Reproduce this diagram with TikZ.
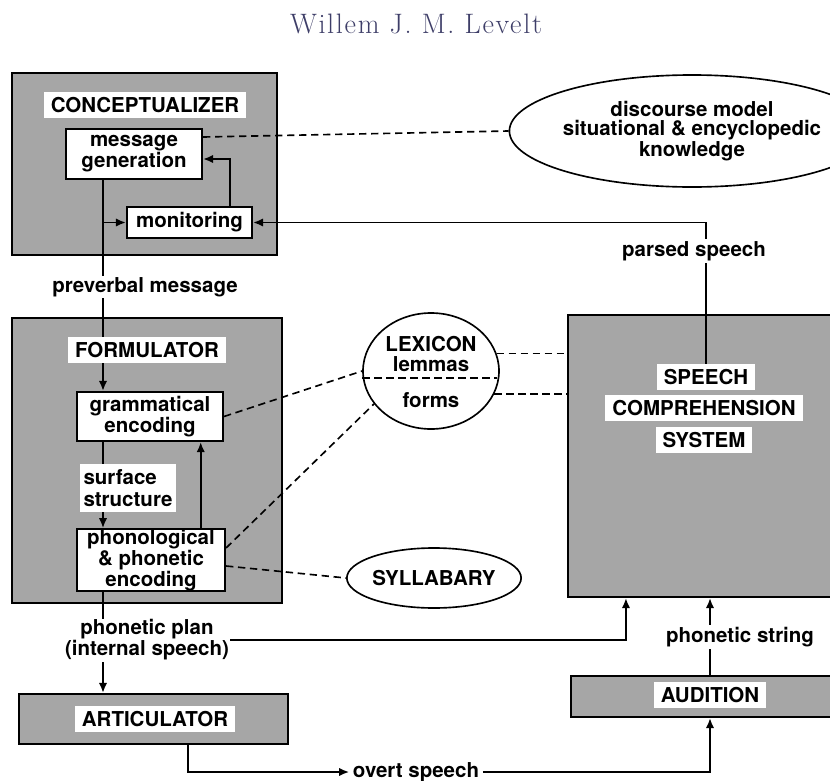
\documentclass[tikz,border=0pt]{standalone}
\usepackage{fontspec}
\setsansfont{TeX Gyre Heros}
\newfontfamily\titlefont[LetterSpace=6]{Latin Modern Roman}
\usetikzlibrary{arrows.meta,shapes.geometric,fit}
\definecolor{panelgray}{RGB}{166,166,166}
\definecolor{titleblue}{RGB}{62,62,104}

\begin{document}
\begin{tikzpicture}[x=.03cm,y=-.03cm,
    lbl/.style={font=\sffamily\bfseries\fontsize{17.5}{14}\selectfont,align=center},
    unit/.style={draw,line width=1.8pt,fill=panelgray,inner sep=0pt,fit={#1}},
    proc/.style={lbl,draw,line width=1.8pt,fill=white,inner sep=0pt},
    tag/.style={lbl,fill=white,inner xsep=6pt,inner ysep=4.5pt},
    flow/.style={line width=1.6pt,-{Latex[length=3mm,width=2.5mm]}},
    dashlink/.style={line width=1.4pt,dash pattern=on 2.2mm off 1.4mm},
    bubble/.style={draw,ellipse,line width=1.4pt,fill=white,inner sep=0pt}]
    \useasboundingbox (0,0) rectangle (830,781);
    \clip (0,0) rectangle (830,781);

    \node[font=\titlefont\fontsize{24}{24}\selectfont,text=titleblue] (author) at (416,24) {Willem J. M. Levelt};

    \node[unit={(12,73) (277,255)}] (conc) {};
    \node[unit={(12,318) (282,603)}] (form) {};
    \node[unit={(568,315) (840,597)}] (comp) {};
    \node[unit={(19,694) (288,744)}] (artic) {};
    \node[unit={(571,676) (840,717)}] (audit) {};

    \node[bubble,lbl,font=\sffamily\bfseries\fontsize{17.5}{16.5}\selectfont,minimum width=8.34cm,minimum height=3.36cm] (disc) at (692,131) {discourse model\\situational \& encyclopedic\\knowledge};
    \node[bubble,minimum width=4.08cm,minimum height=3.48cm] (lex) at (431,371) {};
    \node[bubble,lbl,minimum width=5.1cm,minimum height=1.8cm] (syll) at (434,578) {SYLLABARY};
    \node[lbl] (lexname) at (431,344) {LEXICON};
    \node[lbl] (lemmas) at (431,364) {lemmas};
    \node[lbl] (forms) at (431,400) {forms};
    \draw[dashlink] (lex.west) ++(0,7) -- ++(135,0);

    \node[proc,minimum width=4.08cm,minimum height=1.5cm] (msg) at (134,154) {message\\generation};
    \node[proc,minimum width=3.75cm,minimum height=.93cm] (mon) at (189.5,222.5) {monitoring};
    \node[proc,minimum width=4.38cm,minimum height=1.47cm] (gram) at (150,416.5) {grammatical\\encoding};
    \node[proc,minimum width=4.44cm,minimum height=1.62cm] (phon) at (151,560) {phonological\\\& phonetic\\encoding};

    \foreach \n/\t/\x/\y in {concname/CONCEPTUALIZER/145/105,artname/ARTICULATOR/155/719,
        audname/AUDITION/710/695,speech/SPEECH/706/377,compname/COMPREHENSION/704/408,sysname/SYSTEM/704/440}
        \node[tag] (\n) at (\x,\y) {\t};

    \coordinate (spine) at (103,300);
    \draw[flow] (msg.south -| spine) -- (gram.north -| spine);
    \draw[flow] (spine |- mon.west) -- (mon.west);
    \draw[flow] ([xshift=-.69cm]mon.north east) |- ([yshift=-.15cm]msg.east);
    \draw[flow] (speech.north) |- (mon.east);
    \draw[dashlink] (msg.east) ++(0,-17) -- (disc.west);

    \draw[flow] (gram.south -| spine) -- (phon.north -| spine);
    \draw[flow] ([xshift=-.7cm]gram.south east |- phon.north) -- ([xshift=-.7cm]gram.south east);
    \draw[dashlink] (gram.east) -- (lex.west);
    \draw[dashlink] (phon.east) ++(0,-12) -- (lex.210);
    \draw[dashlink] (phon.east) ++(0,6) -- (syll.west);
    \draw[dashlink] (lex.15) -- (lex.15 -| comp.west);
    \draw[dashlink] (lex.340) -- (lex.340 -| comp.west);

    \draw[flow] (phon.south -| spine) -- (artic.north -| spine);
    \node[lbl,fill=white,inner sep=1pt] (plan) at (147,640) {phonetic plan\\(internal speech)};
    \draw[flow] (plan.east) -| ([xshift=1.77cm]comp.south west);
    \node[lbl,inner sep=3pt] (overt) at (416,772) {overt speech};
    \draw[flow] ([xshift=1.04cm]artic.south) |- (overt.west);
    \draw[flow] (overt.east) -| (audit.south -| audname);
    \draw[flow] (audit.north -| audname) -- (comp.south -| audname);

    % labels sitting on the lines
    \node[tag] (formname) at (147,350) {FORMULATOR};
    \node[tag,align=left,inner xsep=3pt,font=\sffamily\bfseries\fontsize{17.5}{19}\selectfont] (surf) at (128,488) {surface\\structure};
    \node[lbl,fill=white,inner sep=1pt] (preverb) at (145,287) {preverbal message};
    \node[lbl,fill=white,inner sep=2pt] (parsed) at (694,251) {parsed speech};
    \node[lbl,fill=white,inner sep=2pt] (phstring) at (740,637) {phonetic string};
\end{tikzpicture}
\end{document}
